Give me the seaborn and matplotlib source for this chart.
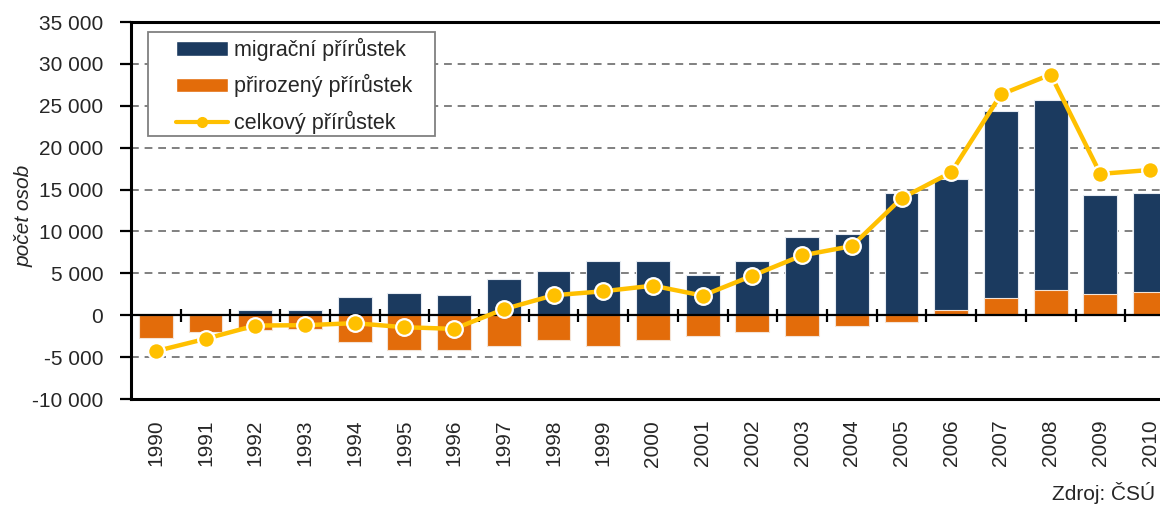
import numpy as np
import pandas as pd
import seaborn as sns
import matplotlib.pyplot as plt
from matplotlib.lines import Line2D
from matplotlib.patches import Patch, Rectangle
from matplotlib.ticker import FuncFormatter

# Data
years = [str(y) for y in range(1990, 2011)]
migracni = [-1590, -820, 600, 600, 2220, 2700, 2460, 4370, 5320, 6510, 6510,
            4840, 6510, 9370, 9640, 14560, 16270, 24320, 25700, 14320, 14600]
prirozeny = [-2700, -2000, -1710, -1700, -3210, -4200, -4100, -3700, -2980, -3700, -2980,
             -2500, -2000, -2500, -1270, -800, 600, 2020, 2980, 2500, 2740]
celkovy = [-4290, -2820, -1230, -1190, -950, -1430, -1630, 720, 2380, 2860, 3530,
           2340, 4720, 7140, 8250, 13960, 17060, 26350, 28730, 16870, 17340]
labels = ['migrační přírůstek', 'přirozený přírůstek', 'celkový přírůstek']

navy = '#1b3a5f'
orange = '#e36c0a'
yellow = '#ffc000'

sns.set_style('white')
plt.rcParams['font.family'] = ['Liberation Sans', 'DejaVu Sans']

df = pd.DataFrame({'rok': years, 'migracni': migracni,
                   'prirozeny': prirozeny, 'celkovy': celkovy})
df['pos'] = np.arange(len(df))

fig = plt.figure(figsize=(11.6, 5.07), dpi=100)
ax = fig.add_axes([0.1129, 0.2130, 0.9000, 0.7436])

# bars overlap (both start at zero), natural increase in front
sns.barplot(data=df, x='rok', y='migracni', color=navy, saturation=1, width=0.68,
            errorbar=None, edgecolor='#e6ebf1', linewidth=0.8, ax=ax, zorder=2)
sns.barplot(data=df, x='rok', y='prirozeny', color=orange, saturation=1, width=0.68,
            errorbar=None, edgecolor='#f3e3d6', linewidth=0.8, ax=ax, zorder=3)

ax.axhline(0, color='black', lw=1.6, zorder=4)
ax.vlines(df['pos'].iloc[:-1] + 0.5, -850, 800, color='black', lw=1.6, zorder=4)

sns.lineplot(data=df, x='pos', y='celkovy', color=yellow, lw=3.2, marker='o',
             markersize=12, markeredgecolor='white', markeredgewidth=1.6,
             ax=ax, zorder=5)

ax.set_xlim(-0.5, len(years) - 0.5)
ax.set_ylim(-10000, 35000)
ax.set_yticks(range(-10000, 35001, 5000))
ax.yaxis.set_major_formatter(FuncFormatter(lambda v, p: f'{int(v):,}'.replace(',', ' ')))
ax.set_xticks(df['pos'])
ax.set_xticklabels(years, rotation=90, fontsize=15)
ax.tick_params(axis='x', length=0, pad=15)
ax.tick_params(axis='y', direction='out', length=8, width=1.6, pad=12,
               labelsize=15, left=True, color='black')

ax.set_axisbelow(True)
ax.yaxis.grid(True, color='#808080', linestyle=(0, (4, 3)), lw=1.4)
ax.xaxis.grid(False)

for side in ['top', 'left', 'bottom']:
    ax.spines[side].set_visible(True)
    ax.spines[side].set_color('black')
    ax.spines[side].set_linewidth(2.2)
ax.spines['right'].set_visible(False)

ax.set_xlabel('')
ax.set_ylabel('počet osob', style='italic', fontsize=15)
ax.yaxis.set_label_coords(-0.093, 0.485)

# legend frame drawn separately so that the padding matches the original
ax.add_patch(Rectangle((0.0163, 0.6976), 0.275, 0.2759, transform=ax.transAxes,
                       facecolor='white', edgecolor='#808080', lw=1.3, zorder=6))
handles = [Patch(facecolor=navy), Patch(facecolor=orange),
           Line2D([], [], color=yellow, lw=3, marker='o', markersize=7,
                  markeredgecolor=yellow)]
leg = ax.legend(handles, labels, loc='upper left', bbox_to_anchor=(0.0431, 0.958),
                borderaxespad=0, borderpad=0, fontsize=15.5, frameon=False,
                handlelength=2.4, handleheight=0.65, handletextpad=0.3,
                labelspacing=0.62)
leg.set_zorder(7)

fig.text(0.9957, 0.0138, 'Zdroj: ČSÚ', ha='right', va='baseline', fontsize=15)

fig.savefig('out.png', dpi=100)
